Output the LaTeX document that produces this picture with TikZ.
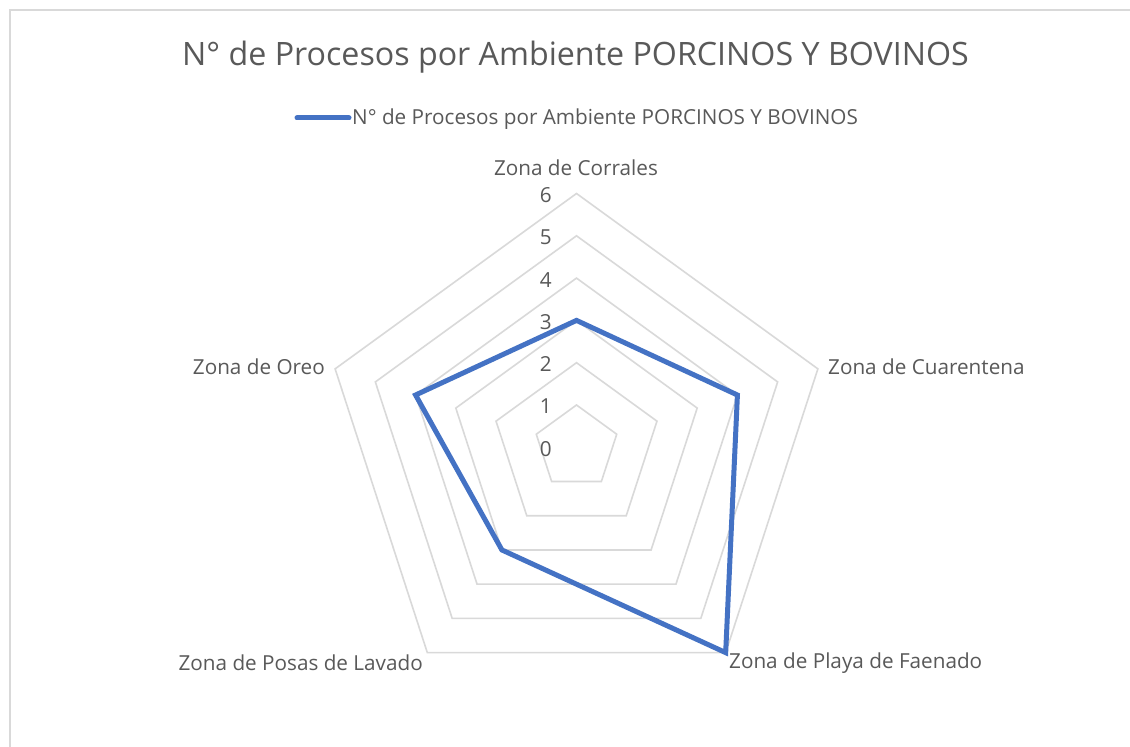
\documentclass[tikz,border=0pt]{standalone}
\usepackage{fontspec}
\setmainfont{Open Sans}
\usetikzlibrary{calc}
\definecolor{txt}{HTML}{595959}
\definecolor{grid}{HTML}{D9D9D9}
\definecolor{ser}{HTML}{4472C4}
\begin{document}
\begin{tikzpicture}[x=1pt,y=1pt,
  lbl/.style={text=txt,inner sep=0pt,font=\fontsize{20.7}{24}\selectfont},
  lvl/.style={text=txt,inner sep=0pt,anchor=east,font=\fontsize{20.7}{24}\selectfont},
  gridline/.style={draw=grid,line width=1.6pt,line join=miter},
  series/.style={draw=ser,line width=5pt,line join=miter}]
\useasboundingbox (0,0) rectangle (1130,747);
\fill[white] (0,0) rectangle (1130,747);
\draw[grid,line width=2pt] (9.5,-20) -- (9.5,736.5) -- (1150,736.5);
\coordinate (C) at (576.5,299.7);
\def\rr{42.3}
% grid pentagons
\foreach \k in {1,...,6}{
  \draw[gridline] ($(C)+(90:\k*\rr)$) -- ($(C)+(18:\k*\rr)$) -- ($(C)+(-54:\k*\rr)$) -- ($(C)+(-126:\k*\rr)$) -- ($(C)+(162:\k*\rr)$) -- cycle;
}
\foreach \k in {0,...,6}{
  \node[lvl] (l\k) at ($(C)+(-24.5,\k*\rr-1.5)$) {\k};
}
% data
\coordinate (d1) at ($(C)+(90:3*\rr)$);
\coordinate (d2) at ($(C)+(18:4*\rr)$);
\coordinate (d3) at ($(C)+(-54:6*\rr)$);
\coordinate (d4) at ($(C)+(-126:3*\rr)$);
\coordinate (d5) at ($(C)+(162:4*\rr)$);
\draw[series] (d1) -- (d2) -- (d3) -- (d4) -- (d5) -- cycle;
% axis labels
\node[lbl] (a1) at (576,579) {Zona de Corrales};
\node[lbl,anchor=west] (a2) at (828,380) {Zona de Cuarentena};
\node[lbl,anchor=west] (a3) at (729,84) {Zona de Playa de Faenado};
\node[lbl,anchor=east] (a4) at (423,84) {Zona de Posas de Lavado};
\node[lbl,anchor=east] (a5) at (325,380) {Zona de Oreo};
% title
\node[text=txt,inner sep=0pt,font=\fontsize{32.2}{38}\selectfont] (title) at (575.5,690) {N° de Procesos por Ambiente PORCINOS Y BOVINOS};
% legend
\coordinate (lg1) at (297,629);
\coordinate (lg2) at (349,629);
\draw[series,line cap=round] (lg1) -- (lg2);
\node[lbl,anchor=west] (legend) at (352,628) {N° de Procesos por Ambiente PORCINOS Y BOVINOS};
\end{tikzpicture}
\end{document}
